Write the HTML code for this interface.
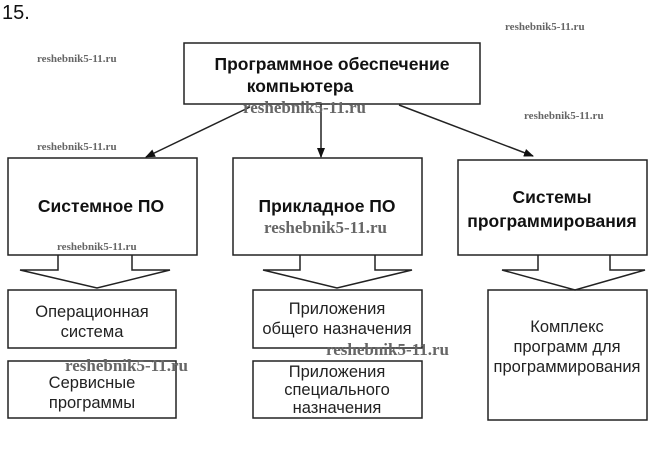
<!DOCTYPE html>
<html><head><meta charset="utf-8"><style>
html,body{margin:0;padding:0;background:#fff;}
svg{display:block}
.t{font-family:"Liberation Sans",sans-serif;fill:#111;}
.b{font-weight:bold;font-size:17.5px;}
.n{font-size:16.5px;fill:#222;}
.w{font-family:"Liberation Serif",serif;font-weight:bold;fill:#666;}
</style></head><body>
<svg width="657" height="455" viewBox="0 0 657 455" xmlns="http://www.w3.org/2000/svg">
<defs><marker id="a" markerWidth="10" markerHeight="10" refX="9" refY="5" orient="auto" markerUnits="userSpaceOnUse"><path d="M0,1 L10,5 L0,9 z" fill="#111"/></marker></defs>
<text x="2" y="19" class="t" font-size="20" fill="#333">15.</text>
<g fill="none" stroke="#222" stroke-width="1.5">
<rect x="184" y="43" width="296" height="61"/>
<rect x="8" y="158" width="189" height="97"/>
<rect x="233" y="158" width="189" height="97"/>
<rect x="458" y="160" width="189" height="95"/>
<rect x="8" y="290" width="168" height="58"/>
<rect x="8" y="361" width="168" height="57"/>
<rect x="253" y="290" width="169" height="58"/>
<rect x="253" y="361" width="169" height="57"/>
<rect x="488" y="290" width="159" height="130"/>
<line x1="250" y1="107" x2="146" y2="157" marker-end="url(#a)"/>
<line x1="321" y1="104" x2="321" y2="157" marker-end="url(#a)"/>
<line x1="399" y1="105" x2="533" y2="156" marker-end="url(#a)"/>
<path d="M58,255 V270 H20 L97,288 L170,270 H132 V255"/>
<path d="M300,255 V270 H263 L337,288 L412,270 H375 V255"/>
<path d="M538,255 V270 H502 L575,290 L645,270 H610 V255"/>
</g>
<text x="332" y="70" class="t b" text-anchor="middle">Программное обеспечение</text>
<text x="300" y="92" class="t b" text-anchor="middle">компьютера</text>
<text x="101" y="212" class="t b" text-anchor="middle">Системное ПО</text>
<text x="327" y="212" class="t b" text-anchor="middle">Прикладное ПО</text>
<text x="552" y="203" class="t b" text-anchor="middle">Системы</text>
<text x="552" y="227" class="t b" text-anchor="middle">программирования</text>
<text x="92" y="317" class="t n" text-anchor="middle">Операционная</text>
<text x="92" y="337" class="t n" text-anchor="middle">система</text>
<text x="92" y="388" class="t n" text-anchor="middle">Сервисные</text>
<text x="92" y="408" class="t n" text-anchor="middle">программы</text>
<text x="337" y="314" class="t n" text-anchor="middle">Приложения</text>
<text x="337" y="334" class="t n" text-anchor="middle">общего назначения</text>
<text x="337" y="377" class="t n" text-anchor="middle">Приложения</text>
<text x="337" y="395" class="t n" text-anchor="middle">специального</text>
<text x="337" y="413" class="t n" text-anchor="middle">назначения</text>
<text x="567" y="332" class="t n" text-anchor="middle">Комплекс</text>
<text x="567" y="352" class="t n" text-anchor="middle">программ для</text>
<text x="567" y="372" class="t n" text-anchor="middle">программирования</text>
<text x="505" y="30" class="w" font-size="11">reshebnik5-11.ru</text>
<text x="37" y="62" class="w" font-size="11">reshebnik5-11.ru</text>
<text x="243" y="113" class="w" font-size="17">reshebnik5-11.ru</text>
<text x="524" y="119" class="w" font-size="11">reshebnik5-11.ru</text>
<text x="37" y="150" class="w" font-size="11">reshebnik5-11.ru</text>
<text x="264" y="233" class="w" font-size="17">reshebnik5-11.ru</text>
<text x="57" y="250" class="w" font-size="11">reshebnik5-11.ru</text>
<text x="65" y="371" class="w" font-size="17">reshebnik5-11.ru</text>
<text x="326" y="355" class="w" font-size="17">reshebnik5-11.ru</text>
</svg>
</body></html>
